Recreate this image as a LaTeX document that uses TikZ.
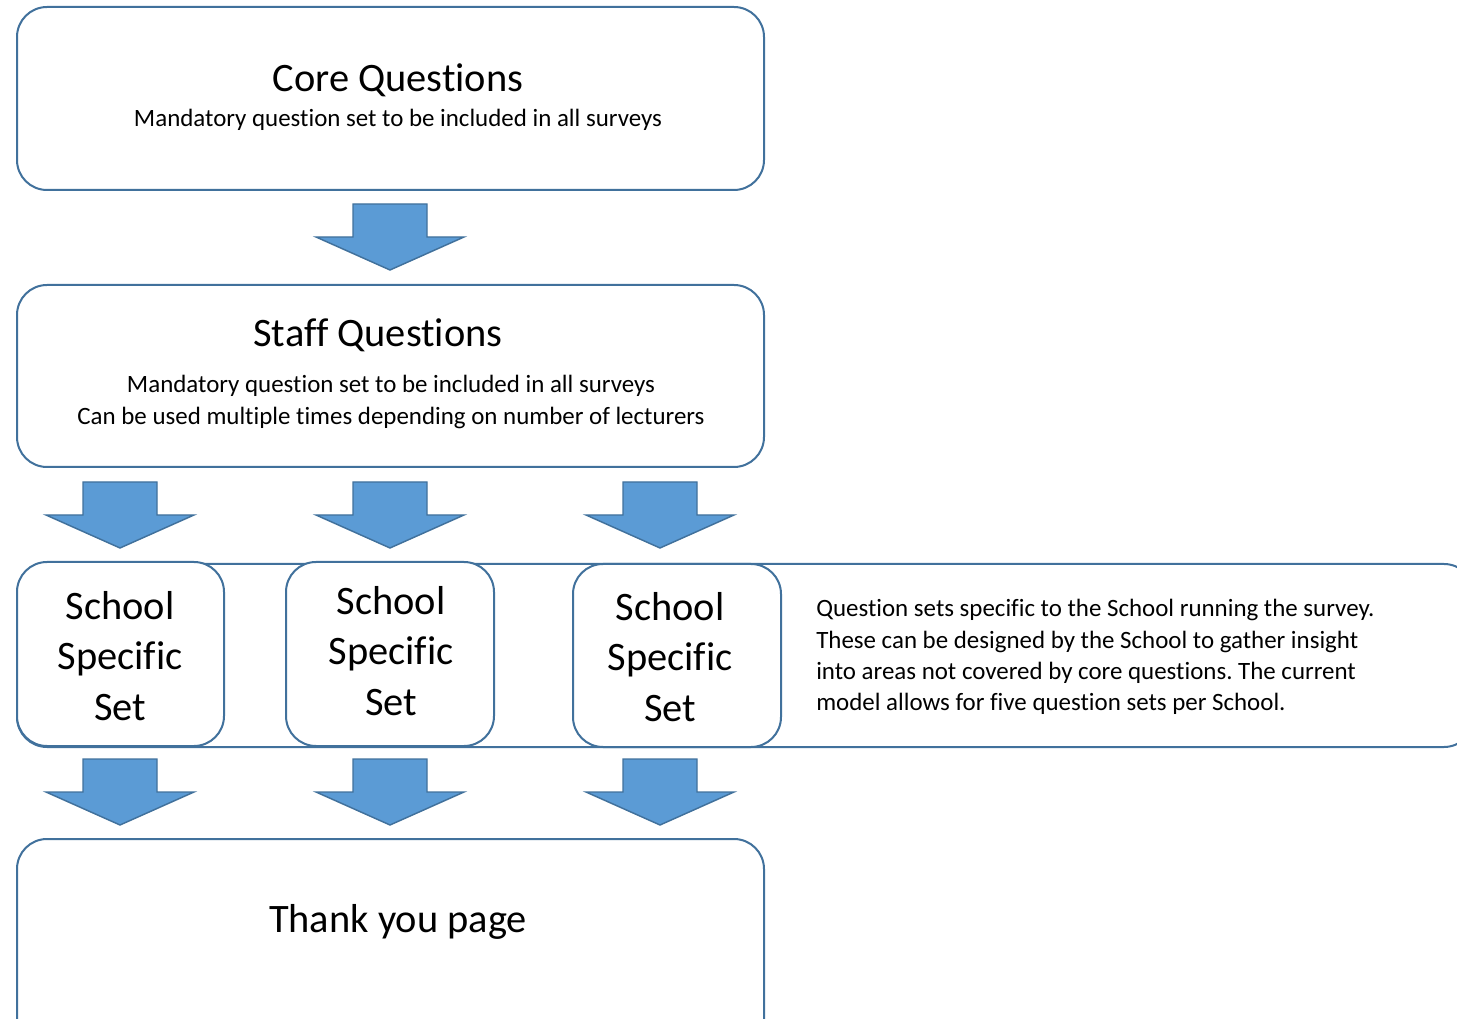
\documentclass[tikz,border=0pt]{standalone}
\usepackage{fontspec}
\setmainfont[Ligatures=NoCommon]{Carlito}
\frenchspacing
\definecolor{edgeblue}{HTML}{41719C}
\definecolor{fillblue}{HTML}{5B9BD5}
\newcommand{\blockarrow}[3]{% name, center x, top y
  \path[arrowshape] (#2-37,#3) -- (#2+37,#3) -- (#2+37,#3+33) -- (#2+74,#3+33)
    -- (#2,#3+66) coordinate (#1) -- (#2-74,#3+33) -- (#2-37,#3+33) -- cycle;}
\begin{document}
\begin{tikzpicture}[x=0.75pt,y=-0.75pt,
  box/.style={draw=edgeblue,line width=1.5pt,rounded corners=22.5pt,fill=white},
  arrowshape/.style={draw=edgeblue,line width=1.1pt,fill=fillblue,line join=miter},
  title/.style={font=\fontsize{30.3pt}{37.5pt}\selectfont,inner sep=0pt},
  sub/.style={font=\fontsize{18.7pt}{23.4pt}\selectfont,inner sep=0pt,align=center},
  ssset/.style={font=\fontsize{30.3pt}{37.7pt}\selectfont,inner sep=0pt,align=center}]
\useasboundingbox (0,0) rectangle (1457,1019);
\begin{scope}
\clip (0,0) rectangle (1457,1019);
% boxes
\draw[box] (17,7) rectangle (764,190);
\node[coordinate] (core) at (390,98) {};
\draw[box] (17,285) rectangle (764,467);
\node[coordinate] (staff) at (390,376) {};
\draw[box] (17,564) rectangle (1474,747);
\draw[box] (17,562) rectangle (224,746);
\draw[box] (286,562) rectangle (494,746);
\draw[box] (573,564) rectangle (781,747);
\draw[box] (17,839) rectangle (764,1060);
% arrows
\blockarrow{a1}{390}{204}
\blockarrow{a21}{120}{482}
\blockarrow{a22}{390}{482}
\blockarrow{a23}{660}{482}
\blockarrow{a31}{120}{759}
\blockarrow{a32}{390}{759}
\blockarrow{a33}{660}{759}
\end{scope}
% texts
\node[title] (coret) at (398,80) {Core Questions};
\node[sub] (cores) at (398,120) {Mandatory question set to be included in all surveys};
\node[title] (stafft) at (378,335) {Staff Questions};
\node[sub] (staffs) at (391,402) {Mandatory question set to be included in all surveys\\Can be used multiple times depending on number of lecturers};
\node[ssset] (s1) at (120,656) {School\\Specific\\Set};
\node[ssset] (s2) at (391,651) {School\\Specific\\Set};
\node[ssset] (s3) at (670,657) {School\\Specific\\Set};
\node[sub,align=left,anchor=west] (desc) at (816,657) {Question sets specific to the School running the survey.\\These can be designed by the School to gather insight\\into areas not covered by core questions. The current\\model allows for five question sets per School.};
\node[title] (thanks) at (398,922) {Thank you page};
\end{tikzpicture}
\end{document}
